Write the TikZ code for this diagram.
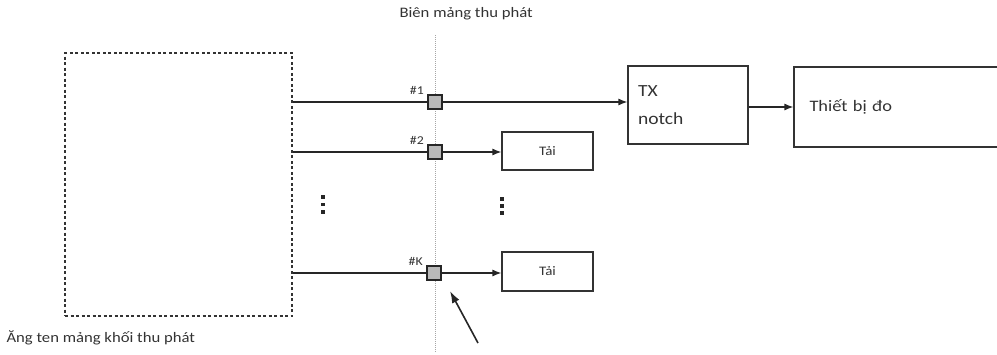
\documentclass[tikz,border=0pt]{standalone}
\usepackage{fontspec}
\setmainfont{Carlito}[FakeStretch=1.15]
\usepackage{tikz}
\usetikzlibrary{positioning, arrows.meta}

\begin{document}
\begin{tikzpicture}[
            x=1pt, y=-1pt,
            every node/.style={text=black!80},
            port/.style={rectangle, draw=black!85, fill=gray!55, line width=1.4pt, minimum size=14pt, inner sep=0pt},
            box/.style={rectangle, draw=black!80, line width=1.1pt, inner sep=0pt},
            lbl/.style={font=\fontsize{14.5}{17}\selectfont},
            feed/.style={draw=black!85, line width=1.3pt},
            tip/.style={-{Latex[length=9pt, width=7pt]}},
            dot/.style={fill=black!85, minimum size=3.5pt, inner sep=0pt, rectangle},
        ]
            \useasboundingbox (0,0) rectangle (997,354);
            \clip (0,0) rectangle (997,354);
            % antenna array and array boundary
            \node[box, dash pattern=on 3pt off 2.5pt, line width=1.4pt, minimum width=227pt, minimum height=263pt] (array) at (178.5,184.5) {};
            \coordinate (btop) at (435,35);
            \coordinate (bbot) at (435,352);
            \draw[densely dotted, gray!70, line width=1pt] (btop) -- (bbot);
            % ports
            \node[port, label={[font=\fontsize{12}{14}\selectfont]150:\#1}] (p1) at (435,102) {};
            \node[port, label={[font=\fontsize{12}{14}\selectfont]150:\#2}] (p2) at (435,152) {};
            \node[port, label={[font=\fontsize{12}{14}\selectfont]150:\#K}] (pk) at (434,273) {};
            % loads and measurement chain
            \node[box, minimum width=91pt, minimum height=38pt, font=\fontsize{13}{15}\selectfont] (load2) at (547.5,151) {Tải};
            \node[box, minimum width=91pt, minimum height=39pt, font=\fontsize{13}{15}\selectfont] (loadk) at (547.5,271.5) {Tải};
            \node[box, minimum width=120pt, minimum height=78pt, align=left, text width=100pt, font=\fontsize{17}{28}\selectfont] (notch) at (688,105) {TX\\ notch};
            \node[box, minimum width=211pt, minimum height=80pt, text width=180pt, align=left, font=\fontsize{16}{18}\selectfont] (meter) at (899.5,107) {Thiết bị đo};
            % dots
            \foreach \i in {0,1,2} {
                \node[dot] (dl\i) at (323,197+7.5*\i) {};
                \node[dot] (dr\i) at (502,199+7*\i) {};
            }
            % feed lines
            \draw[feed] (array.east |- p1) -- (p1.west);
            \draw[feed] (array.east |- p2) -- (p2.west);
            \draw[feed] (array.east |- pk) -- (pk.west);
            \draw[feed, tip] (p1.east) -- (notch.west |- p1);
            \draw[feed, tip] (p2.east) -- (load2.west |- p2);
            \draw[feed, tip] (pk.east) -- (loadk.west |- pk);
            \draw[feed, tip] (notch.east |- meter.west) -- (meter.west);
            % pointer to port
            \coordinate (ptail) at (478,343);
            \coordinate (phead) at (450,291);
            \draw[feed, line width=1.6pt, -{Latex[length=12pt, width=8pt]}] (ptail) -- (phead);
            % labels
            \node[lbl, anchor=west] (blabel) at (396,14) {Biên mảng thu phát};
            \node[lbl, anchor=west] (alabel) at (3,338) {Ăng ten mảng khối thu phát};
        \end{tikzpicture}
\end{document}
